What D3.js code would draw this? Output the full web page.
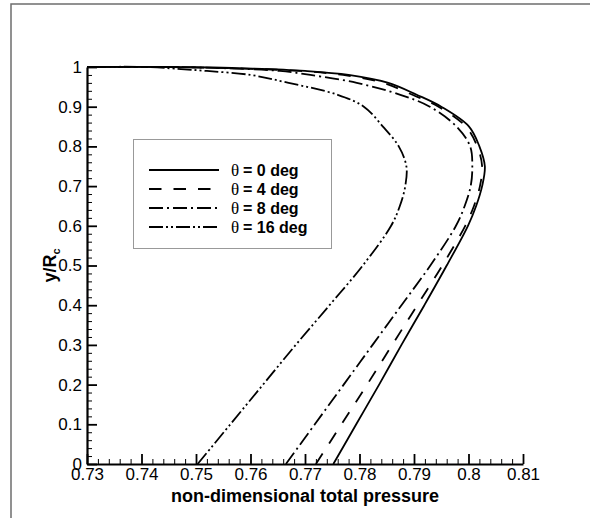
<!DOCTYPE html>
<html>
<head>
<meta charset="utf-8">
<script src="https://cdn.jsdelivr.net/npm/d3@7/dist/d3.min.js"></script>
<style>
  html, body { margin: 0; padding: 0; background: #fff; }
  svg { display: block; }
  .tick-label { font-family: "Liberation Sans", Arial, sans-serif; font-size: 17px; fill: #000; }
  .title { font-family: "Liberation Sans", Arial, sans-serif; font-size: 18px; font-weight: bold; fill: #000; }
</style>
</head>
<body>
<script>
// Radial position y/Rc shared by all profiles
const yRc = [0, 0.1, 0.2, 0.3, 0.4, 0.5, 0.6, 0.65, 0.7, 0.75, 0.8, 0.85, 0.9, 0.93, 0.96, 0.98, 0.99, 0.996, 1.0, 1.0];

// Non-dimensional total pressure for each inclination angle
const p0deg  = [0.7752, 0.7794, 0.7836, 0.7877, 0.7919, 0.7960, 0.7999, 0.8014, 0.8025, 0.8030, 0.8020, 0.8001, 0.7950, 0.7905, 0.7853, 0.7780, 0.7700, 0.7600, 0.7450, 0.7300];
const p4deg  = [0.7720, 0.7767, 0.7814, 0.7860, 0.7906, 0.7952, 0.7994, 0.8010, 0.8021, 0.8025, 0.8016, 0.7995, 0.7945, 0.7897, 0.7843, 0.7770, 0.7690, 0.7590, 0.7450, 0.7300];
const p8deg  = [0.7665, 0.7718, 0.7771, 0.7824, 0.7877, 0.7930, 0.7977, 0.7993, 0.8004, 0.8007, 0.8003, 0.7978, 0.7929, 0.7875, 0.7795, 0.7710, 0.7654, 0.7570, 0.7450, 0.7300];
const p16deg = [0.7503, 0.7563, 0.7623, 0.7683, 0.7745, 0.7806, 0.7858, 0.7874, 0.7884, 0.7886, 0.7872, 0.7843, 0.7808, 0.7760, 0.7670, 0.7600, 0.7520, 0.7460, 0.7416, 0.7300];

const seriesNames = ["0", "4", "8", "16"];
const seriesValues = [p0deg, p4deg, p8deg, p16deg];
const seriesDash = ["none", "12.5,12", "14,4,2,4", "14,3,2,3,2,3"];

const xTicks = [0.73, 0.74, 0.75, 0.76, 0.77, 0.78, 0.79, 0.80, 0.81];
const xTickLabels = ["0.73", "0.74", "0.75", "0.76", "0.77", "0.78", "0.79", "0.8", "0.81"];
const yTicks = [0, 0.1, 0.2, 0.3, 0.4, 0.5, 0.6, 0.7, 0.8, 0.9, 1];
const yTickLabels = ["0", "0.1", "0.2", "0.3", "0.4", "0.5", "0.6", "0.7", "0.8", "0.9", "1"];

const W = 590, H = 518;
const plot = { left: 87, right: 523, top: 67, bottom: 464 };

const svg = d3.select("body").append("svg").attr("width", W).attr("height", H);

// outer frame (top and left edges)
svg.append("path")
  .attr("d", `M11,${H} L11,4 L${W},4`)
  .attr("fill", "none").attr("stroke", "#6e6e6e").attr("stroke-width", 1.5);

const x = d3.scaleLinear().domain([0.73, 0.81]).range([plot.left, plot.right]);
const y = d3.scaleLinear().domain([0, 1]).range([plot.bottom, plot.top]);

// minor ticks: 4 between each pair of majors
const xMinor = d3.range(0, 41).map(i => 0.73 + i * 0.002).filter((v, i) => i % 5 !== 0);
const yMinor = d3.range(0, 51).map(i => i * 0.02).filter((v, i) => i % 5 !== 0);

// x axis, ticks pointing into the plot
const xAxis = d3.axisBottom(x).tickValues(xTicks).tickSizeInner(-10).tickSizeOuter(0)
  .tickFormat((d, i) => xTickLabels[i]);
const gx = svg.append("g").attr("transform", `translate(0,${plot.bottom})`).call(xAxis);
gx.select(".domain").attr("stroke", "#000").attr("stroke-width", 2.2);
gx.selectAll(".tick line").attr("stroke", "#000").attr("stroke-width", 1.8);
gx.selectAll(".tick text").attr("class", "tick-label").attr("dy", "0.71em").attr("y", 4);
svg.append("g").attr("transform", `translate(0,${plot.bottom})`)
  .call(d3.axisBottom(x).tickValues(xMinor).tickSizeInner(-5).tickSizeOuter(0).tickFormat(""))
  .call(g => g.select(".domain").remove())
  .call(g => g.selectAll("line").attr("stroke", "#000").attr("stroke-width", 1));

// y axis
const yAxis = d3.axisLeft(y).tickValues(yTicks).tickSizeInner(-10).tickSizeOuter(0)
  .tickFormat((d, i) => yTickLabels[i]);
const gy = svg.append("g").attr("transform", `translate(${plot.left},0)`).call(yAxis);
gy.select(".domain").attr("stroke", "#000").attr("stroke-width", 2.2);
gy.selectAll(".tick line").attr("stroke", "#000").attr("stroke-width", 1.8);
gy.selectAll(".tick text").attr("class", "tick-label").attr("x", -5).attr("text-anchor", "end");
svg.append("g").attr("transform", `translate(${plot.left},0)`)
  .call(d3.axisLeft(y).tickValues(yMinor).tickSizeInner(-5).tickSizeOuter(0).tickFormat(""))
  .call(g => g.select(".domain").remove())
  .call(g => g.selectAll("line").attr("stroke", "#000").attr("stroke-width", 1));

// profiles
const line = d3.line()
  .x(d => x(d[0])).y(d => y(d[1]))
  .curve(d3.curveCatmullRom.alpha(0.5));

seriesValues.forEach((vals, k) => {
  const pts = vals.map((v, i) => [v, yRc[i]]);
  svg.append("path")
    .datum(pts)
    .attr("d", line)
    .attr("fill", "none")
    .attr("stroke", "#000")
    .attr("stroke-width", 1.8)
    .attr("stroke-dasharray", seriesDash[k]);
});

// axis titles
svg.append("text").attr("class", "title")
  .attr("x", (plot.left + plot.right) / 2).attr("y", 502)
  .attr("text-anchor", "middle").text("non-dimensional total pressure");

const yt = svg.append("text").attr("class", "title")
  .attr("transform", `translate(56,${(plot.top + plot.bottom) / 2}) rotate(-90)`)
  .attr("text-anchor", "middle");
yt.append("tspan").text("y/R");
yt.append("tspan").attr("font-size", "11px").attr("dy", 4).text("c");

// legend
const lg = svg.append("g");
lg.append("rect").attr("x", 133.5).attr("y", 139.5).attr("width", 198).attr("height", 109)
  .attr("fill", "#fff").attr("stroke", "#999").attr("stroke-width", 1);
const legendY = [170, 189, 208, 227];
seriesNames.forEach((name, k) => {
  lg.append("line")
    .attr("x1", 149).attr("x2", 219).attr("y1", legendY[k]).attr("y2", legendY[k])
    .attr("stroke", "#000").attr("stroke-width", 1.8)
    .attr("stroke-dasharray", seriesDash[k]);
  const t = lg.append("text").attr("y", legendY[k] + 6);
  t.append("tspan").attr("x", 231)
    .attr("font-family", "'Liberation Serif', 'Times New Roman', serif")
    .attr("font-size", "17px").text("\u03b8");
  t.append("tspan").attr("x", 243)
    .attr("font-family", "'Liberation Sans', Arial, sans-serif")
    .attr("font-size", "16px").attr("font-weight", "bold")
    .text("= " + name + " deg");
});
</script>
</body>
</html>
